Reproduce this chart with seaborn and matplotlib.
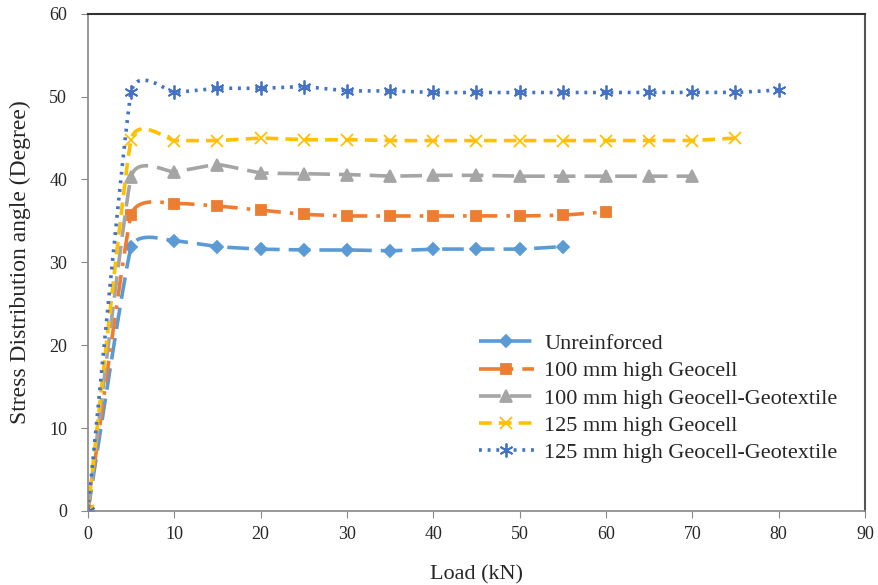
import numpy as np
import pandas as pd
import seaborn as sns
import matplotlib.pyplot as plt
from matplotlib.lines import Line2D

# load steps (kN) and measured stress distribution angle (degree)
load_a = [0, 5, 10, 15, 20, 25, 30, 35, 40, 45, 50, 55]
unreinforced = [0, 31.8, 32.6, 31.9, 31.6, 31.5, 31.5, 31.4, 31.6, 31.6, 31.6, 31.9]

load_b = [0, 5, 10, 15, 20, 25, 30, 35, 40, 45, 50, 55, 60]
geocell_100 = [0, 35.7, 37.1, 36.8, 36.3, 35.8, 35.6, 35.6, 35.6, 35.6, 35.6, 35.7, 36.1]

load_c = [0, 5, 10, 15, 20, 25, 30, 35, 40, 45, 50, 55, 60, 65, 70]
geocell_geotex_100 = [0, 40.3, 40.9, 41.8, 40.8, 40.7, 40.6, 40.4, 40.5, 40.5, 40.4, 40.4, 40.4, 40.4, 40.4]

load_d = [0, 5, 10, 15, 20, 25, 30, 35, 40, 45, 50, 55, 60, 65, 70, 75]
geocell_125 = [0, 44.8, 44.7, 44.7, 45.0, 44.8, 44.8, 44.7, 44.7, 44.7, 44.7, 44.7, 44.7, 44.7, 44.7, 45.0]

load_e = [0, 5, 10, 15, 20, 25, 30, 35, 40, 45, 50, 55, 60, 65, 70, 75, 80]
geocell_geotex_125 = [0, 50.5, 50.5, 51.0, 51.0, 51.2, 50.7, 50.7, 50.5, 50.5, 50.5, 50.5, 50.5, 50.5, 50.5, 50.5, 50.8]

labels = ['Unreinforced', '100 mm high Geocell', '100 mm high Geocell-Geotextile',
          '125 mm high Geocell', '125 mm high Geocell-Geotextile']


def smooth(x, y, n=20, k=0.2):
    # excel style smoothed line through the points (cardinal spline, low tension)
    x = np.asarray(x, float)
    y = np.asarray(y, float)
    px = np.concatenate([[2 * x[0] - x[1]], x, [2 * x[-1] - x[-2]]])
    py = np.concatenate([[2 * y[0] - y[1]], y, [2 * y[-1] - y[-2]]])
    xs, ys = [], []
    t = np.linspace(0, 1, n, endpoint=False)
    h00 = 2 * t**3 - 3 * t**2 + 1
    h10 = t**3 - 2 * t**2 + t
    h01 = -2 * t**3 + 3 * t**2
    h11 = t**3 - t**2
    for i in range(1, len(px) - 2):
        for p, out in ((px, xs), (py, ys)):
            p0, p1, p2, p3 = p[i - 1], p[i], p[i + 1], p[i + 2]
            m1 = (p2 - p0) * k
            m2 = (p3 - p1) * k
            out.extend(h00 * p1 + h10 * m1 + h01 * p2 + h11 * m2)
    xs.append(x[-1])
    ys.append(y[-1])
    return np.array(xs), np.array(ys)


sns.set_style('white')
plt.rcParams['font.family'] = ['Liberation Serif', 'DejaVu Serif']

fig = plt.figure(figsize=(8.79, 5.85), dpi=100)
ax = fig.add_axes([0.100, 0.1265, 0.884, 0.85])

series = [
    (load_a, unreinforced, '#5B9BD5', (0, (6, 2.5)), 'D', 6),
    (load_b, geocell_100, '#ED7D31', (0, (6, 2.5, 1, 2.5)), 's', 7),
    (load_c, geocell_geotex_100, '#A5A5A5', (0, (6, 2.5)), '^', 8),
    (load_d, geocell_125, '#FFC000', (0, (3.5, 2)), 'x', 9),
    (load_e, geocell_geotex_125, '#4472C4', (0, (0.8, 1.6)), (6, 2, 0), 10),
]

handles = []
for (x, y, c, ls, mk, ms), lab in zip(series, labels):
    sx, sy = smooth(x, y)
    df = pd.DataFrame({'Load': sx, 'Angle': sy})
    sns.lineplot(data=df, x='Load', y='Angle', ax=ax, color=c, lw=2.6,
                 linestyle=ls, sort=False, estimator=None)
    ax.plot(x, y, linestyle='none', marker=mk, color=c, ms=ms, mew=1.3)
    handles.append(Line2D([], [], color=c, lw=2.6, linestyle=ls, marker=mk, ms=ms, mew=1.3))

ax.set_xlim(0, 90)
ax.set_ylim(0, 60)
ax.set_xticks(range(0, 91, 10))
ax.set_yticks(range(0, 61, 10))
ax.set_xlabel('Load (kN)', fontsize=16, labelpad=16)
ax.set_ylabel('Stress Distribution angle (Degree)', fontsize=17, labelpad=13)
ax.tick_params(axis='both', labelsize=13, length=5, color='#888888', direction='out',
               bottom=True, left=True)
ax.tick_params(axis='y', pad=10)
ax.tick_params(axis='x', pad=6)
for s in ax.spines.values():
    s.set_color('#888888')
    s.set_linewidth(1.2)
ax.spines['top'].set_color('#333333')
ax.spines['right'].set_color('#555555')
ax.spines['top'].set_linewidth(1.5)
ax.spines['right'].set_linewidth(1.5)

ax.legend(handles, labels, loc='upper left', bbox_to_anchor=(0.477, 0.397),
          frameon=False, fontsize=16, handlelength=2.5, handletextpad=0.45,
          labelspacing=0.3)

fig.savefig('out.png', dpi=100)
